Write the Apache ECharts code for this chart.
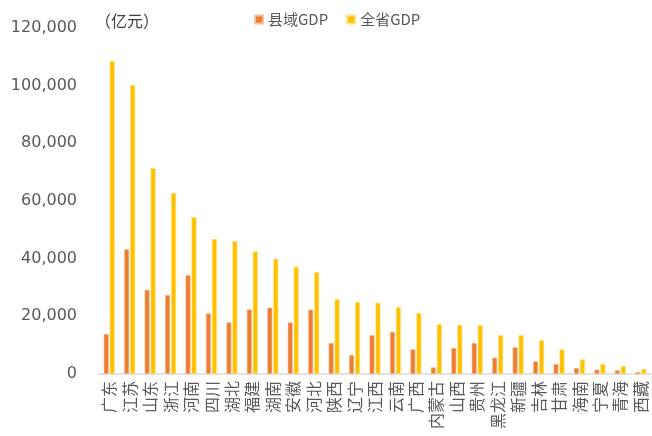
<!DOCTYPE html>
<html>
<head>
<meta charset="utf-8">
<script src="https://cdn.jsdelivr.net/npm/echarts@6/dist/echarts.min.js"></script>
<style>html,body{margin:0;padding:0;background:#fff}#c{width:652px;height:436px}</style>
</head>
<body>
<div id="c"></div>
<script>
const provinces = ['广东','江苏','山东','浙江','河南','四川','湖北','福建','湖南','安徽','河北','陕西','辽宁','江西','云南','广西','内蒙古','山西','贵州','黑龙江','新疆','吉林','甘肃','海南','宁夏','青海','西藏'];
const countyGDP = [13900,43300,29200,27400,34300,21000,17900,22400,23000,17900,22300,10750,6600,13500,14600,8550,2300,9000,10750,5650,9250,4400,3470,2100,1500,1300,700];
const provinceGDP = [108500,100200,71400,62800,54400,46800,46100,42500,39900,37200,35300,25900,25000,24700,23200,21150,17250,17000,16900,13500,13500,11700,8550,5100,3450,2800,1700];
const yTicks = {min:0, max:120000, interval:20000};
const seriesNames = ['县域GDP','全省GDP'];
const unitLabel = '（亿元）';

const cjk = '"Noto Sans CJK SC", sans-serif';
const chart = echarts.init(document.getElementById('c'));
chart.setOption({
  animation:false,
  backgroundColor:'#fff',
  color:['#ED7D31','#FFC000'],
  title:{text:unitLabel,left:90,top:8,textStyle:{fontFamily:cjk,fontSize:16,fontWeight:'normal',color:'#404040'}},
  legend:{data:seriesNames,top:7,left:249,itemWidth:8,itemHeight:8,itemGap:18,icon:'rect',
    textStyle:{fontFamily:cjk,fontSize:15,color:'#595959'}},
  grid:{left:99,right:1,top:28,bottom:62,containLabel:false},
  xAxis:{type:'category',data:provinces,
    axisLine:{lineStyle:{color:'#d9d9d9',width:1.5}},axisTick:{show:false},
    axisLabel:{rotate:90,interval:0,margin:7,fontFamily:cjk,fontSize:16,color:'#595959'}},
  yAxis:{type:'value',min:yTicks.min,max:yTicks.max,interval:yTicks.interval,
    axisLine:{show:false},axisTick:{show:false},splitLine:{show:false},
    axisLabel:{margin:22,fontFamily:'"DejaVu Sans", sans-serif',fontSize:16,color:'#595959',
      formatter:v=>v.toLocaleString('en-US')}},
  series:[
    {name:seriesNames[0],type:'bar',data:countyGDP,barWidth:5,barGap:'20%',
      itemStyle:{color:'#ED7D31',borderColor:'#f6c3a0',borderWidth:0.6}},
    {name:seriesNames[1],type:'bar',data:provinceGDP,barWidth:5,
      itemStyle:{color:'#FFC000',borderColor:'#ffe38a',borderWidth:0.6}}
  ]
});
</script>
</body>
</html>
